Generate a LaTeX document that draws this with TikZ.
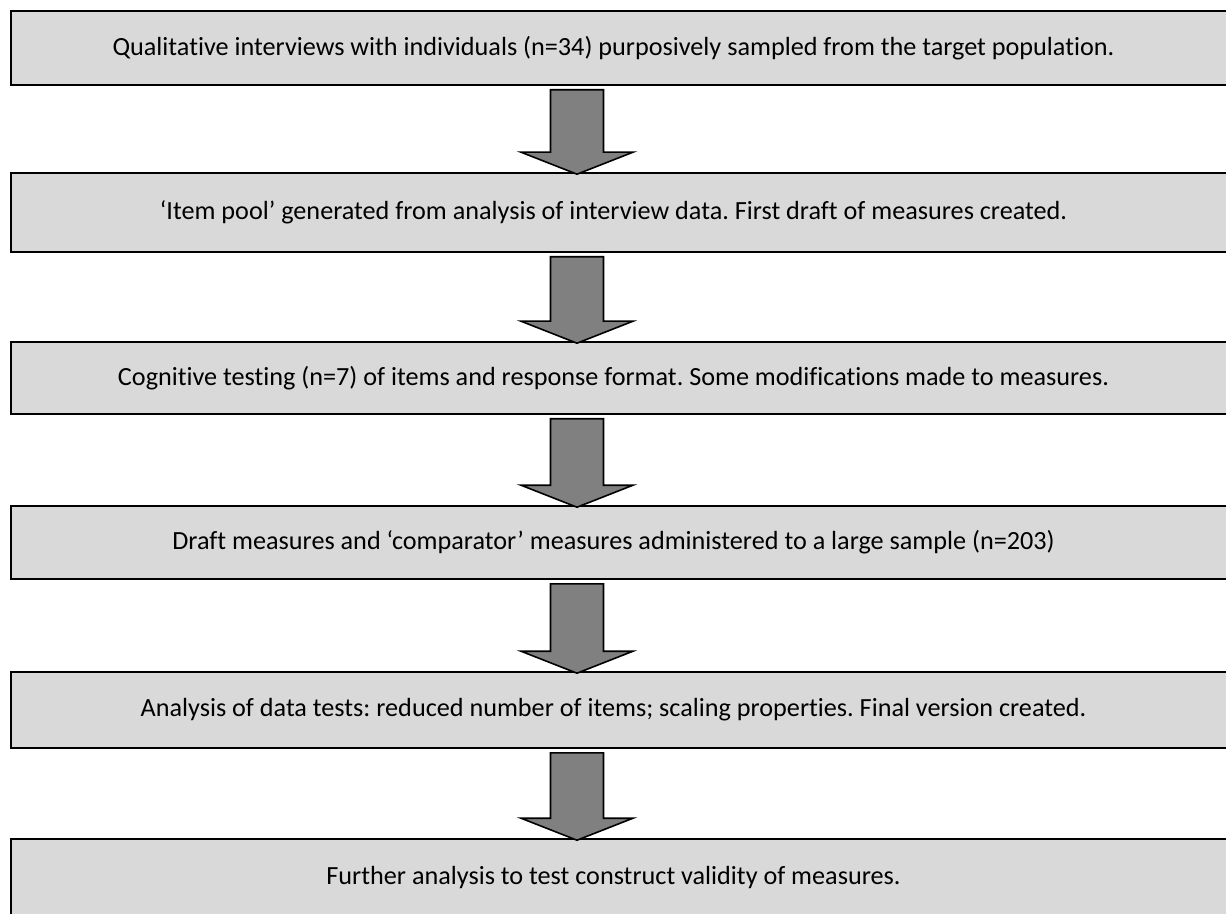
\documentclass[tikz,border=0pt]{standalone}
\usepackage{fontspec}
\setmainfont{Carlito}[Ligatures=NoCommon]
\frenchspacing
\usetikzlibrary{calc}
\definecolor{boxgray}{HTML}{D9D9D9}
\definecolor{arrowgray}{HTML}{808080}
\tikzset{
	% Two styles for the flow chart: step boxes and block arrows
	stage box/.style={rectangle,draw,line width=0.8pt,fill=boxgray,minimum width=609pt,minimum height=37.5pt,inner sep=0,font=\fontsize{13.1}{15}\selectfont,execute at end node={\hspace*{6.5pt}}},
	block arrow/.style={draw,line width=0.8pt,fill=arrowgray,line join=miter}
}
% block arrow from the foot of one box to the head of the next
\newcommand{\flowarrow}[2]{%
	\draw[block arrow]
	($(#1.south -| axis)+(-26.5,4)$) -- ($(#2.north -| axis)+(-26.5,-20)$)
	-- ($(#2.north -| axis)+(-56,-20)$) -- ($(#2.north -| axis)+(0,2)$)
	-- ($(#2.north -| axis)+(56,-20)$) -- ($(#2.north -| axis)+(26.5,-20)$)
	-- ($(#1.south -| axis)+(26.5,4)$) -- cycle;
}

\begin{document}
\begin{tikzpicture}[x=0.5pt,y=-0.5pt]
\useasboundingbox (0,0) rectangle (1226,914);

% axis of the arrows
\coordinate (axis) at (577,0);

% the six stages
\node(b1)[stage box,minimum height=37pt] at (620,48) {Qualitative interviews with individuals (n=34) purposively sampled from the target population.};
\node(b2)[stage box,minimum height=39.5pt] at (620,212.5) {‘Item pool’ generated from analysis of interview data. First draft of measures created.};
\node(b3)[stage box,minimum height=36pt] at (620,378) {Cognitive testing (n=7) of items and response format. Some modifications made to measures.};
\node(b4)[stage box,minimum height=36.5pt] at (620,542.5) {Draft measures and ‘comparator’ measures administered to a large sample (n=203)};
\node(b5)[stage box,minimum height=38pt] at (620,710) {Analysis of data tests: reduced number of items; scaling properties. Final version created.};
\node(b6)[stage box,minimum height=39pt] at (620,878) {Further analysis to test construct validity of measures.};

% arrows between stages
\flowarrow{b1}{b2}
\flowarrow{b2}{b3}
\flowarrow{b3}{b4}
\flowarrow{b4}{b5}
\flowarrow{b5}{b6}

\end{tikzpicture}
\end{document}
